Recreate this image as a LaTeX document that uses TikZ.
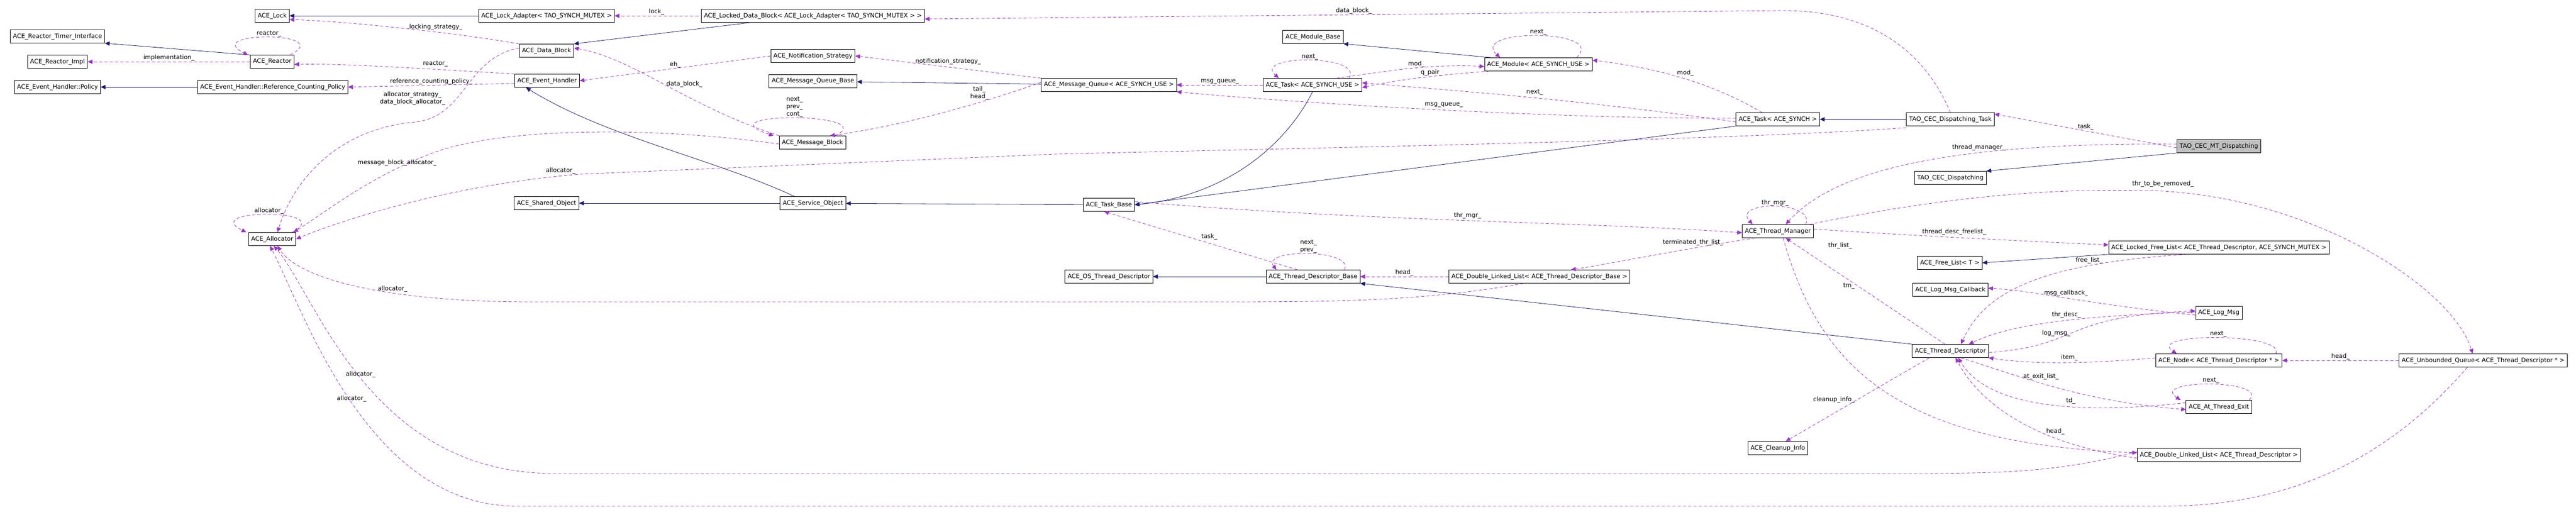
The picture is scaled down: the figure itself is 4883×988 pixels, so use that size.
\documentclass[tikz,border=0pt]{standalone}
\usepackage{fontspec}
\setmainfont{DejaVu Sans}
\usepackage{tikz}
\usetikzlibrary{arrows.meta}
\definecolor{navy}{RGB}{25,25,112}
\definecolor{orchid}{RGB}{153,50,204}
\begin{document}
\begin{tikzpicture}[x=1pt, y=-1pt, line width=0.8pt]
    \tikzset{cls/.style = {draw=black, fill=white, font=\fontsize{11.5}{13}\selectfont, minimum height=25pt, inner xsep=5pt, inner ysep=0pt}}
    \tikzset{focus/.style = {cls, fill=black!25}}
    \tikzset{inh/.style = {draw=navy, -{Triangle[length=9pt, width=8pt]}}}
    \tikzset{use/.style = {draw=orchid, dash pattern=on 6pt off 4pt, -{Triangle[length=9pt, width=8pt]}}}
    \tikzset{lbl/.style = {font=\fontsize{11.5}{14}\selectfont, align=center, inner sep=1pt, text=black}}
    \useasboundingbox (0,0) rectangle (4883,988);

    % classes
    \node [cls] (Lock) at (516,30) {ACE\_Lock};
    \node [cls] (TimerIf) at (109,69) {ACE\_Reactor\_Timer\_Interface};
    \node [cls] (ReactorImpl) at (109,117) {ACE\_Reactor\_Impl};
    \node [cls] (Reactor) at (516,117) {ACE\_Reactor};
    \node [cls] (Policy) at (109,165) {ACE\_Event\_Handler::Policy};
    \node [cls] (RefPolicy) at (517,165) {ACE\_Event\_Handler::Reference\_Counting\_Policy};
    \node [cls] (Allocator) at (516,453) {ACE\_Allocator};
    \node [cls] (LockAdapter) at (1036,30) {ACE\_Lock\_Adapter< TAO\_SYNCH\_MUTEX >};
    \node [cls] (DataBlock) at (1036,96) {ACE\_Data\_Block};
    \node [cls] (EventHandler) at (1037,153) {ACE\_Event\_Handler};
    \node [cls] (SharedObject) at (1036,385) {ACE\_Shared\_Object};
    \node [cls] (LockedDataBlock) at (1541,30) {ACE\_Locked\_Data\_Block< ACE\_Lock\_Adapter< TAO\_SYNCH\_MUTEX > >};
    \node [cls] (NotifStrategy) at (1541,106) {ACE\_Notification\_Strategy};
    \node [cls] (MQBase) at (1541,154) {ACE\_Message\_Queue\_Base};
    \node [cls] (MsgBlock) at (1540,270) {ACE\_Message\_Block};
    \node [cls] (ServiceObject) at (1541,385) {ACE\_Service\_Object};
    \node [cls] (MsgQueue) at (2102,161) {ACE\_Message\_Queue< ACE\_SYNCH\_USE >};
    \node [cls] (ModuleBase) at (2489,70) {ACE\_Module\_Base};
    \node [cls] (Module) at (2916,122) {ACE\_Module< ACE\_SYNCH\_USE >};
    \node [cls] (TaskUse) at (2488,161) {ACE\_Task< ACE\_SYNCH\_USE >};
    \node [cls] (TaskBase) at (2102,388) {ACE\_Task\_Base};
    \node [cls] (OSThreadDesc) at (2102,524) {ACE\_OS\_Thread\_Descriptor};
    \node [cls] (ThreadDescBase) at (2489,524) {ACE\_Thread\_Descriptor\_Base};
    \node [cls] (DLLBase) at (2918,524) {ACE\_Double\_Linked\_List< ACE\_Thread\_Descriptor\_Base >};
    \node [cls] (TaskSynch) at (3370,226) {ACE\_Task< ACE\_SYNCH >};
    \node [cls] (DispTask) at (3697,226) {TAO\_CEC\_Dispatching\_Task};
    \node [cls] (Dispatching) at (3697,337) {TAO\_CEC\_Dispatching};
    \node [cls] (ThreadManager) at (3370,438) {ACE\_Thread\_Manager};
    \node [cls] (FreeList) at (3696,498) {ACE\_Free\_List< T >};
    \node [cls] (LogMsgCallback) at (3697,549) {ACE\_Log\_Msg\_Callback};
    \node [cls] (ThreadDesc) at (3697,665) {ACE\_Thread\_Descriptor};
    \node [cls] (CleanupInfo) at (3370,849) {ACE\_Cleanup\_Info};
    \node [focus] (MTDispatching) at (4206,277) {TAO\_CEC\_MT\_Dispatching};
    \node [cls] (LockedFreeList) at (4206,469) {ACE\_Locked\_Free\_List< ACE\_Thread\_Descriptor, ACE\_SYNCH\_MUTEX >};
    \node [cls] (LogMsg) at (4206,593) {ACE\_Log\_Msg};
    \node [cls] (Node) at (4206,683) {ACE\_Node< ACE\_Thread\_Descriptor * >};
    \node [cls] (UnboundedQueue) at (4707,683) {ACE\_Unbounded\_Queue< ACE\_Thread\_Descriptor * >};
    \node [cls] (AtThreadExit) at (4206,771) {ACE\_At\_Thread\_Exit};
    \node [cls] (DLL) at (4206,862) {ACE\_Double\_Linked\_List< ACE\_Thread\_Descriptor >};

    % inheritance
    \draw [inh] (Reactor.north west) -- (TimerIf.south east);
    \draw [inh] (RefPolicy) -- (Policy);
    \draw [inh] (LockAdapter) -- (Lock);
    \draw [inh] ([xshift=-120pt]LockedDataBlock.south) -- (DataBlock.north east);
    \draw [inh] ([xshift=-35pt]ServiceObject.north) .. controls (1350,300) and (1150,260) .. ([xshift=-40pt]EventHandler.south);
    \draw [inh] (ServiceObject) -- (SharedObject);
    \draw [inh] (TaskBase) -- (ServiceObject);
    \draw [inh] (MsgQueue) -- (MQBase);
    \draw [inh] ([xshift=-90pt]Module.north) -- (ModuleBase.south east);
    \draw [inh] (TaskUse.south) .. controls (2440,270) and (2330,370) .. (TaskBase.east);
    \draw [inh] (TaskSynch.south west) -- (TaskBase.east);
    \draw [inh] (DispTask) -- (TaskSynch);
    \draw [inh] (MTDispatching.south west) -- (Dispatching.north east);
    \draw [inh] (LockedFreeList.south west) -- (FreeList.east);
    \draw [inh] (ThreadDescBase) -- (OSThreadDesc);
    \draw [inh] (ThreadDesc.north west) -- (ThreadDescBase.south east);

    % members
    \draw [use] (Reactor) -- node [lbl, above] {implementation\_} (ReactorImpl);
    \draw [use] ([xshift=-8pt]Reactor.north east) .. controls +(90,-45) and +(-90,-45) .. node [lbl, above] {reactor\_} ([xshift=-4pt]Reactor.north west);
    \draw [use] (DataBlock.north west) .. controls (850,60) and (650,40) .. ([yshift=-7pt]Lock.east) node [lbl, pos=0.35, above=2pt] {locking\_strategy\_};
    \draw [use] (EventHandler.north west) .. controls (800,130) and (650,120) .. ([yshift=-5pt]Reactor.east) node [lbl, pos=0.3, above=4pt] {reactor\_};
    \draw [use] ([yshift=-5pt]EventHandler.west) -- node [lbl, above] {reference\_counting\_policy\_} (RefPolicy.east);
    \draw [use] ([yshift=5pt]DataBlock.west) .. controls (880,110) and (885,225) .. (780,232) .. controls (650,245) and (560,330) .. ([xshift=10pt]Allocator.north);
    \node [lbl] (AllocLbl) at (782,186) {allocator\_strategy\_\\data\_block\_allocator\_};
    \draw [use] ([yshift=-3pt]MsgBlock.west) .. controls (1250,240) and (950,240) .. (820,290) .. controls (700,335) and (620,400) .. ([xshift=-5pt]Allocator.north east) node [lbl, pos=0.2, above=3pt] {message\_block\_allocator\_};
    \draw [use] ([xshift=-8pt]Allocator.north east) .. controls +(90,-45) and +(-90,-45) .. node [lbl, above] {allocator\_} ([xshift=-4pt]Allocator.north west);
    \draw [use] ([xshift=-5pt]LockedDataBlock.west) -- node [lbl, above] {lock\_} (LockAdapter);
    \draw [use] (NotifStrategy.west) -- node [lbl, above] {eh\_} (EventHandler.east);
    \draw [use] (MsgBlock.north west) .. controls (1300,200) and (1200,110) .. ([yshift=5pt]DataBlock.east) node [lbl, pos=0.5, right=4pt] {data\_block\_};
    \draw [use] ([xshift=-20pt]MsgBlock.north east) .. controls +(90,-45) and +(-140,-45) .. node [lbl, above] {next\_\\prev\_\\cont\_} ([xshift=-10pt]MsgBlock.north west);
    \draw [use] (MsgQueue.north west) -- node [lbl, above=3pt] {notification\_strategy\_} (NotifStrategy.east);
    \draw [use] ([yshift=5pt]MsgQueue.west) .. controls (1850,200) and (1700,240) .. ([xshift=-30pt]MsgBlock.north east) node [lbl, pos=0.3, above=3pt] {tail\_\\head\_};
    \draw [use] (DispTask.north) .. controls (3650,100) and (3550,20) .. (3380,20) -- node [lbl, above] {data\_block\_} ([yshift=-6pt]LockedDataBlock.east);
    \draw [use] (TaskUse) -- node [lbl, above] {msg\_queue\_} (MsgQueue);
    \draw [use] ([xshift=-25pt]TaskUse.north east) .. controls +(30,-45) and +(-50,-45) .. node [lbl, above] {next\_} ([xshift=30pt]TaskUse.north west);
    \draw [use] ([xshift=45pt]TaskUse.north) .. controls (2600,140) and (2700,120) .. ([yshift=-4pt]Module.west) node [lbl, pos=0.6, above] {mod\_};
    \draw [use] ([xshift=10pt]Module.south west) .. controls (2750,140) and (2650,150) .. ([yshift=-5pt]TaskUse.east) node [lbl, pos=0.45, above] {q\_pair\_};
    \draw [use] ([xshift=-30pt]Module.north east) .. controls +(60,-55) and +(-60,-55) .. node [lbl, above] {next\_} ([xshift=30pt]Module.north west);
    \draw [use] ([xshift=-30pt]TaskSynch.north) .. controls (3250,160) and (3150,130) .. ([yshift=8pt]Module.east) node [lbl, pos=0.5, above=4pt] {mod\_};
    \draw [use] ([yshift=-5pt]TaskSynch.west) .. controls (3000,190) and (2800,175) .. ([yshift=4pt]TaskUse.east) node [lbl, pos=0.5, above=4pt] {next\_};
    \draw [use] ([yshift=2pt]TaskSynch.west) .. controls (2900,225) and (2400,190) .. (MsgQueue.south east) node [lbl, pos=0.45, above=4pt] {msg\_queue\_};
    \draw [use] ([yshift=-3pt]DispTask.south west) .. controls (3300,265) and (2500,280) .. (2000,292) -- (1100,330) .. controls (850,350) and (640,420) .. (Allocator.east) node [lbl, pos=0.05, above=3pt] {allocator\_};
    \draw [use] ([yshift=6pt]TaskBase.east) .. controls (2600,420) and (3000,420) .. ([yshift=-3pt]ThreadManager.west) node [lbl, pos=0.5, above=2pt] {thr\_mgr\_};
    \draw [use] ([xshift=-15pt]ThreadManager.north east) .. controls +(20,-45) and +(-40,-45) .. node [lbl, above] {thr\_mgr\_} ([xshift=20pt]ThreadManager.north west);
    \draw [use] ([yshift=-3pt]MTDispatching.west) -- node [lbl, above] {task\_} ([yshift=10pt]DispTask.east);
    \draw [use] ([yshift=4pt]MTDispatching.west) .. controls (3700,270) and (3480,320) .. ([xshift=15pt]ThreadManager.north) node [lbl, pos=0.35, above=3pt] {thread\_manager\_};
    \draw [use] ([yshift=4pt]ThreadManager.east) .. controls (3600,445) and (3800,455) .. ([yshift=5pt]LockedFreeList.west) node [lbl, pos=0.5, above=3pt] {thread\_desc\_freelist\_};
    \draw [use] ([xshift=25pt]ThreadManager.south west) .. controls (3200,470) and (3050,500) .. ([xshift=60pt]DLLBase.north) node [lbl, pos=0.3, above=4pt] {terminated\_thr\_list\_};
    \draw [use] ([xshift=60pt]ThreadManager.north) .. controls (3700,370) and (3900,355) .. (4100,362) .. controls (4400,380) and (4650,550) .. ([xshift=-20pt]UnboundedQueue.north) node [lbl, pos=0.0, above=6pt] {thr\_to\_be\_removed\_};
    \draw [use] ([xshift=-30pt]ThreadDescBase.north east) .. controls +(20,-40) and +(-30,-40) .. node [lbl, above] {next\_\\prev\_} ([xshift=20pt]ThreadDescBase.north west);
    \draw [use] ([xshift=-30pt]ThreadDescBase.north) -- node [lbl, above right] {task\_} ([xshift=40pt]TaskBase.south west);
    \draw [use] (DLLBase) -- node [lbl, above] {head\_} (ThreadDescBase);
    \draw [use] ([xshift=-30pt]DLLBase.south) .. controls (2700,570) and (2550,572) .. (2300,572) -- (1010,572) .. controls (700,572) and (560,520) .. ([xshift=10pt]Allocator.south) node [lbl, pos=0.35, above] {allocator\_};
    \draw [use] ([xshift=-60pt]LockedFreeList.south) .. controls (3850,500) and (3760,560) .. ([xshift=20pt]ThreadDesc.north) node [lbl, pos=0.25, above=3pt] {free\_list\_};
    \draw [use] ([yshift=-4pt]LogMsg.west) .. controls (3950,575) and (3850,550) .. ([yshift=3pt]LogMsgCallback.east) node [lbl, pos=0.5, above=2pt] {msg\_callback\_};
    \draw [use] ([yshift=2pt]LogMsg.west) .. controls (3900,600) and (3800,620) .. ([xshift=35pt]ThreadDesc.north) node [lbl, pos=0.4, above=4pt] {thr\_desc\_};
    \draw [use] ([yshift=-3pt]ThreadDesc.east) .. controls (3950,655) and (3900,600) .. ([yshift=4pt]LogMsg.west) node [lbl, pos=0.35, above=4pt] {log\_msg\_};
    \draw [use] ([yshift=5pt]Node.west) .. controls (3950,690) and (3850,690) .. (ThreadDesc.south east) node [lbl, pos=0.45, above=2pt] {item\_};
    \draw [use] ([xshift=-12pt]Node.north east) .. controls +(20,-40) and +(-60,-40) .. node [lbl, above] {next\_} ([xshift=40pt]Node.north west);
    \draw [use] (UnboundedQueue) -- node [lbl, above] {head\_} (Node);
    \draw [use] ([xshift=20pt]ThreadDesc.south) .. controls (3850,720) and (3950,760) .. ([yshift=-5pt]AtThreadExit.west) node [lbl, pos=0.4, above=5pt] {at\_exit\_list\_};
    \draw [use] ([yshift=8pt]AtThreadExit.west) .. controls (3900,790) and (3760,760) .. ([xshift=15pt]ThreadDesc.south) node [lbl, pos=0.35, above=4pt] {td\_};
    \draw [use] ([xshift=-5pt]AtThreadExit.north east) .. controls +(40,-40) and +(-60,-40) .. node [lbl, above] {next\_} ([xshift=-10pt]AtThreadExit.north west);
    \draw [use] ([yshift=-6pt]DLL.west) .. controls (3850,840) and (3750,760) .. ([xshift=10pt]ThreadDesc.south) node [lbl, pos=0.3, above=6pt] {head\_};
    \draw [use] ([xshift=-10pt]ThreadDesc.north) -- node [lbl, pos=0.55, left=4pt] {tm\_} ([xshift=15pt]ThreadManager.south);
    \draw [use] ([xshift=10pt]ThreadManager.south) .. controls (3450,700) and (3600,840) .. ([yshift=4pt]DLL.west) node [lbl, pos=0.02, right=80pt] {thr\_list\_};
    \draw [use] ([xshift=-40pt]ThreadDesc.south) -- node [lbl, left=4pt] {cleanup\_info\_} ([xshift=15pt]CleanupInfo.north);
    \draw [use] ([yshift=6pt]DLL.west) .. controls (3900,895) and (3800,897) .. (3600,897) -- (1050,897) .. controls (700,897) and (600,560) .. ([xshift=3pt]Allocator.south) node [lbl, pos=0.5, above] {allocator\_};
    \draw [use] ([xshift=-30pt]UnboundedQueue.south) .. controls (4500,900) and (4300,959) .. (4100,959) -- (980,959) .. controls (700,959) and (580,600) .. ([xshift=-4pt]Allocator.south) node [lbl, pos=0.5, above] {allocator\_};
\end{tikzpicture}
\end{document}
